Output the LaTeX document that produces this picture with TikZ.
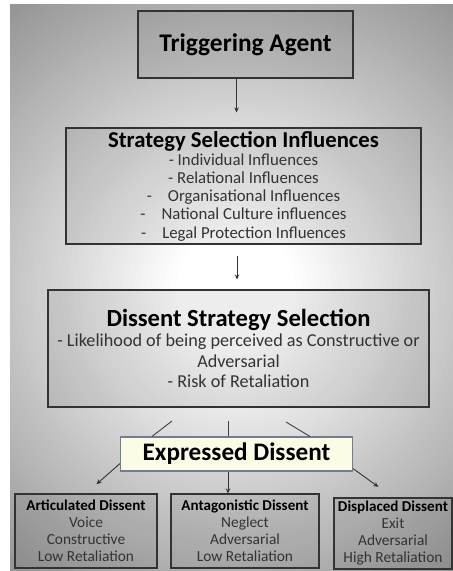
\documentclass[tikz,border=0pt]{standalone}
\usepackage{fontspec}
\setmainfont{Carlito}
\usetikzlibrary{arrows.meta}

\definecolor{cream}{HTML}{FBFBE6}
\definecolor{edgeblue}{HTML}{6F7F8F}

\tikzset{
  box/.style={draw=black!80, line width=1.1pt, fill=black, fill opacity=0.07, text opacity=1, text=black!80, align=center, inner sep=0pt},
  arr/.style={-{Stealth[length=5pt,width=4.5pt]}, line width=0.9pt, draw=black!80},
  lnk/.style={line width=0.9pt, draw=black!75}
}

\begin{document}
\begin{tikzpicture}[x=1pt,y=-1pt]
  \useasboundingbox (0,0) rectangle (453,571);
  % grey backdrop, light in the middle
  \begin{scope}
    \clip (10,4) rectangle (453,571);
    \fill[black!41] (10,4) rectangle (453,571);
    \foreach \r in {360,354,...,6} {
      \pgfmathsetmacro\p{max(0,min(41,41*(\r-60)/300))}
      \fill[black!\p] (236pt,-290pt) circle[radius=\r pt];
    }
  \end{scope}

  \node[box, text=black, minimum width=215pt, minimum height=67pt, font=\fontsize{25.4}{28}\selectfont\bfseries] (trig) at (245.5,44.5) {Triggering Agent};
  \node[box, minimum width=355pt, minimum height=116pt, font=\fontsize{16.8}{18.2}\selectfont] (ssi) at (243.5,186)
    {{\color{black}\fontsize{22.7}{23}\selectfont\bfseries Strategy Selection Influences}\\
     - Individual Influences\\
     - Relational Influences\\
     -\hspace{16pt}Organisational Influences\\
     -\hspace{16pt}National Culture influences\\
     -\hspace{16pt}Legal Protection Influences};
  \node[box, minimum width=381pt, minimum height=117pt, font=\fontsize{18.2}{20.5}\selectfont] (dss) at (238.5,348.5)
    {{\color{black}\fontsize{24.6}{26}\selectfont\bfseries Dissent Strategy Selection}\\
     - Likelihood of being perceived as Constructive or\\
     Adversarial\\
     - Risk of Retaliation};
  \node[box, text=black, draw=edgeblue, fill=cream, fill opacity=1, minimum width=232pt, minimum height=34pt, font=\fontsize{25.2}{27}\selectfont\bfseries] (exp) at (236.5,454) {Expressed Dissent};

  \node[box, minimum width=142pt, minimum height=74pt, font=\fontsize{15.4}{17}\selectfont] (art) at (86,531)
    {{\color{black}\bfseries\fontsize{15.1}{17}\selectfont Articulated Dissent}\\ Voice\\ Constructive\\ Low Retaliation};
  \node[box, minimum width=148pt, minimum height=74pt, font=\fontsize{15.4}{17}\selectfont] (ant) at (245,531)
    {{\color{black}\bfseries\fontsize{15.1}{17}\selectfont Antagonistic Dissent}\\ Neglect\\ Adversarial\\ Low Retaliation};
  \node[box, minimum width=118pt, minimum height=71pt, font=\fontsize{15.4}{17}\selectfont] (dis) at (393,533.5)
    {{\color{black}\bfseries\fontsize{15.1}{17}\selectfont Displaced Dissent}\\ Exit\\ Adversarial\\ High Retaliation};

  \coordinate (l1) at (172,421);
  \coordinate (l2) at (228,421);
  \coordinate (l3) at (286,422);

  \draw[arr, shorten >=15pt] (trig.south -| 236.5,0) -- (ssi.north -| 236.5,0);
  \draw[arr, shorten <=11pt, shorten >=10pt] (ssi.south -| 237,0) -- (dss.north -| 237,0);
  \draw[lnk] (l1) -- (exp.north -| 152,0);
  \draw[lnk] (l2) -- (exp.north -| l2);
  \draw[lnk] (l3) -- (exp.north -| 310,0);
  \draw[arr, shorten >=14pt] ([yshift=8pt]exp.south west) -- (art.north);
  \draw[arr] (l2 |- exp.south) -- (l2 |- ant.north);
  \draw[arr, shorten >=18pt] ([yshift=3pt]exp.south east) -- (dis.north);
\end{tikzpicture}
\end{document}
